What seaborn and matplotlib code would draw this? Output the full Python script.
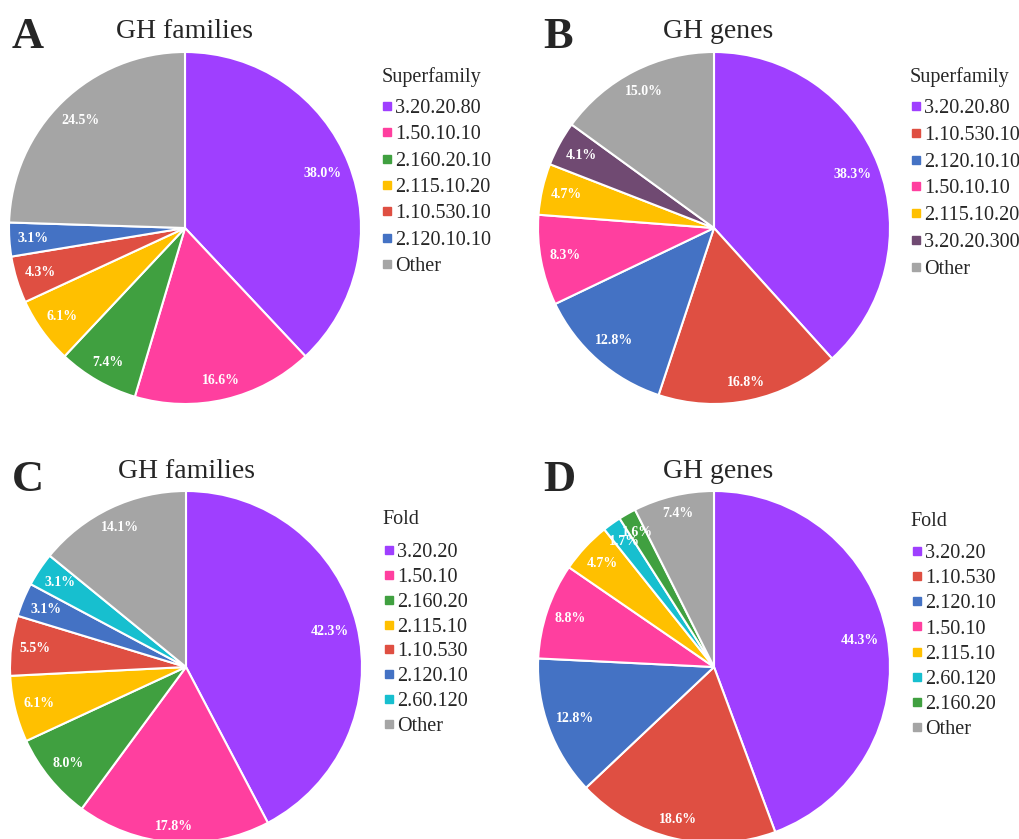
import matplotlib
matplotlib.use("Agg")
import numpy as np
import matplotlib.pyplot as plt
import seaborn as sns
from matplotlib.lines import Line2D

sns.set_theme(style="white")
plt.rcParams["font.family"] = ["Liberation Serif", "DejaVu Serif"]

# colours for each classification
PURPLE = "#9F3FFF"
PINK = "#FF3F9F"
GREEN = "#40A040"
YELLOW = "#FFC000"
RED = "#DF4F42"
BLUE = "#4472C4"
GREY = "#A5A5A5"
PLUM = "#704A72"
CYAN = "#17BFCF"

# A: superfamily share of GH families
a_labels = ["3.20.20.80", "1.50.10.10", "2.160.20.10", "2.115.10.20", "1.10.530.10", "2.120.10.10", "Other"]
a_values = [38.0, 16.6, 7.4, 6.1, 4.3, 3.1, 24.5]
a_colours = [PURPLE, PINK, GREEN, YELLOW, RED, BLUE, GREY]

# B: superfamily share of GH genes
b_labels = ["3.20.20.80", "1.10.530.10", "2.120.10.10", "1.50.10.10", "2.115.10.20", "3.20.20.300", "Other"]
b_values = [38.3, 16.8, 12.8, 8.3, 4.7, 4.1, 15.0]
b_colours = [PURPLE, RED, BLUE, PINK, YELLOW, PLUM, GREY]

# C: fold share of GH families
c_labels = ["3.20.20", "1.50.10", "2.160.20", "2.115.10", "1.10.530", "2.120.10", "2.60.120", "Other"]
c_values = [42.3, 17.8, 8.0, 6.1, 5.5, 3.1, 3.1, 14.1]
c_colours = [PURPLE, PINK, GREEN, YELLOW, RED, BLUE, CYAN, GREY]

# D: fold share of GH genes
d_labels = ["3.20.20", "1.10.530", "2.120.10", "1.50.10", "2.115.10", "2.60.120", "2.160.20", "Other"]
d_values = [44.3, 18.6, 12.8, 8.8, 4.7, 1.7, 1.6, 7.4]
d_colours = [PURPLE, RED, BLUE, PINK, YELLOW, CYAN, GREEN, GREY]

W, H = 1019, 839
R = 176  # pie radius in pixels
LEG_FS = 14.5

fig = plt.figure(figsize=(W / 100, H / 100), dpi=100)


def draw_panel(centre, letter, letter_xy, title, title_xy, labels, values, colours,
               legend_title, legend_title_xy, legend_xy, spacing):
    cx, cy = centre
    ax = fig.add_axes([(cx - R) / W, 1 - (cy + R) / H, 2 * R / W, 2 * R / H])
    wedges, _, autotexts = ax.pie(
        values, colors=colours, startangle=90, counterclock=False,
        autopct="%.1f%%", pctdistance=0.85,
        wedgeprops=dict(edgecolor="white", linewidth=1.5),
        textprops=dict(color="white", fontsize=10, fontweight="bold"),
    )
    ax.set_xlim(-1, 1)
    ax.set_ylim(-1, 1)
    for w in wedges:
        w.set_clip_on(False)

    # put each label near the inner side of the rim, like the original
    for w, t, v in zip(wedges, autotexts, values):
        t.set_text(f"{v:.1f}%")
        ang = np.deg2rad((w.theta1 + w.theta2) / 2)
        dx, dy = np.cos(ang), np.sin(ang)
        half_w = 3.6 * len(t.get_text())
        d = 1 - (9 + half_w * abs(dx) + 6 * abs(dy)) / R
        t.set_position((d * dx, d * dy))

    fig.text(letter_xy[0] / W, 1 - letter_xy[1] / H, letter, fontsize=32,
             fontweight="bold", ha="left", va="center")
    fig.text(title_xy[0] / W, 1 - title_xy[1] / H, title, fontsize=20,
             ha="center", va="center")

    # legend title drawn apart so the gap above the entries can be wider
    fig.text(legend_title_xy[0] / W, 1 - legend_title_xy[1] / H, legend_title,
             fontsize=LEG_FS, ha="left", va="center")
    handles = [Line2D([], [], marker="s", linestyle="", markersize=6,
                      markerfacecolor=c, markeredgecolor=c) for c in colours]
    fig.legend(handles, labels, loc="upper left",
               bbox_to_anchor=(legend_xy[0] / W, 1 - legend_xy[1] / H),
               frameon=False, fontsize=LEG_FS,
               handlelength=0.5, handletextpad=0.15, labelspacing=spacing,
               borderpad=0, borderaxespad=0)


draw_panel((185, 228), "A", (12, 37), "GH families", (185, 32),
           a_labels, a_values, a_colours, "Superfamily", (382, 77), (382, 99), 0.36)
draw_panel((714, 228), "B", (543, 37), "GH genes", (718, 32),
           b_labels, b_values, b_colours, "Superfamily", (910, 77), (911, 99), 0.38)
draw_panel((186, 667), "C", (12, 480), "GH families", (186, 472),
           c_labels, c_values, c_colours, "Fold", (382, 520), (384, 543), 0.285)
draw_panel((714, 667), "D", (543, 480), "GH genes", (718, 472),
           d_labels, d_values, d_colours, "Fold", (910, 522), (912, 544), 0.3)

fig.savefig("out.png", dpi=100)
